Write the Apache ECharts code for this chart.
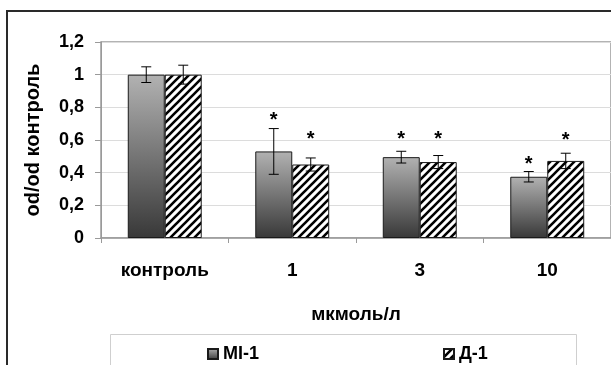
<!DOCTYPE html>
<html>
<head>
<meta charset="utf-8">
<script src="https://cdn.jsdelivr.net/npm/echarts@6/dist/echarts.min.js"></script>
<style>
  html, body { margin: 0; padding: 0; background: #fff; }
  #chart { width: 611px; height: 365px; }
</style>
</head>
<body>
<div id="chart"></div>
<script>
// Concentration groups
const categories = ['контроль', '1', '3', '10'];
// Mean od/od relative to control
const valuesMI = [1.0, 0.53, 0.495, 0.375];
const valuesD = [1.0, 0.45, 0.465, 0.472];
// Error half-widths
const errMI = [0.048, 0.14, 0.036, 0.032];
const errD = [0.058, 0.04, 0.04, 0.047];
// Heights of the significance asterisks (null = none)
const starMI = [null, 0.745, 0.625, 0.472];
const starD = [null, 0.625, 0.625, 0.62];
// Y-axis ticks
const yTicks = [0, 0.2, 0.4, 0.6, 0.8, 1, 1.2];

const FONT = '"Liberation Sans", Arial, sans-serif';
const BAR_FRAC = 0.29;

function hatchPattern() {
  const c = document.createElement('canvas');
  c.width = 8; c.height = 8;
  const g = c.getContext('2d');
  g.fillStyle = '#fff';
  g.fillRect(0, 0, 8, 8);
  g.strokeStyle = '#000';
  g.lineWidth = 2.6;
  g.beginPath();
  g.moveTo(-2, 10); g.lineTo(10, -2);
  g.moveTo(-2, 2); g.lineTo(2, -2);
  g.moveTo(6, 10); g.lineTo(10, 6);
  g.stroke();
  return c;
}

const grayGradient = new echarts.graphic.LinearGradient(0, 0, 0, 1, [
  { offset: 0, color: '#b2b2b2' },
  { offset: 1, color: '#383838' }
]);
const hatch = { image: hatchPattern(), repeat: 'repeat' };

const errData = [];
const starData = [];
categories.forEach((c, i) => {
  errData.push([i, valuesMI[i], errMI[i], -1]);
  errData.push([i, valuesD[i], errD[i], 1]);
  if (starMI[i] != null) starData.push([i, starMI[i], -1]);
  if (starD[i] != null) starData.push([i, starD[i], 1]);
});

const chart = echarts.init(document.getElementById('chart'), null, { renderer: 'canvas' });

chart.setOption({
  animation: false,
  backgroundColor: '#fff',
  textStyle: { fontFamily: FONT },
  graphic: [
    {
      type: 'rect', z: -10, silent: true,
      shape: { x: 7, y: 11, width: 700, height: 500 },
      style: { fill: 'none', stroke: '#2a2a2a', lineWidth: 2 }
    },
    {
      type: 'rect', z: 0, silent: true,
      shape: { x: 110.5, y: 334.5, width: 466, height: 60 },
      style: { fill: '#fff', stroke: '#cfcfcf', lineWidth: 1 }
    }
  ],
  grid: {
    left: 101, top: 42, bottom: 127, right: -3,
    show: true, borderColor: '#9a9a9a', borderWidth: 1.5, backgroundColor: 'transparent'
  },
  legend: [
    {
      data: ['MI-1'], left: 202, top: 340, icon: 'rect', itemWidth: 10, itemHeight: 10, itemGap: 6,
      textStyle: { fontFamily: FONT, fontWeight: 'bold', fontSize: 18, color: '#000' }, z: 5
    },
    {
      data: ['Д-1'], left: 438, top: 340, icon: 'rect', itemWidth: 10, itemHeight: 10, itemGap: 6,
      textStyle: { fontFamily: FONT, fontWeight: 'bold', fontSize: 18, color: '#000' }, z: 5
    }
  ],
  xAxis: {
    type: 'category',
    data: categories,
    name: 'мкмоль/л',
    nameLocation: 'middle',
    nameGap: 67,
    nameTextStyle: { fontFamily: FONT, fontWeight: 'bold', fontSize: 19, color: '#000' },
    axisLine: { lineStyle: { color: '#9a9a9a', width: 1.5 } },
    axisTick: { show: true, length: 5, lineStyle: { color: '#9a9a9a' } },
    axisLabel: { margin: 23, fontFamily: FONT, fontWeight: 'bold', fontSize: 19, color: '#000' },
    splitLine: { show: false }
  },
  yAxis: {
    type: 'value',
    min: 0, max: 1.2, interval: 0.2,
    name: 'od/od контроль',
    nameLocation: 'middle',
    nameRotate: 90,
    nameGap: 58,
    nameTextStyle: { fontFamily: FONT, fontWeight: 'bold', fontSize: 20, color: '#000' },
    axisLine: { show: true, lineStyle: { color: '#9a9a9a', width: 1 } },
    axisTick: { show: true, length: 6, lineStyle: { color: '#9a9a9a' } },
    axisLabel: {
      margin: 17, fontFamily: FONT, fontWeight: 'bold', fontSize: 18, color: '#000',
      formatter: v => {
        const t = yTicks.find(k => Math.abs(k - v) < 1e-6);
        return String(+(t != null ? t : v).toFixed(1)).replace('.', ',');
      }
    },
    splitLine: { lineStyle: { color: '#dcdcdc', width: 1 } }
  },
  series: [
    {
      name: 'MI-1', type: 'bar', data: valuesMI,
      barWidth: (BAR_FRAC * 100) + '%', barGap: '0%',
      itemStyle: { color: grayGradient, borderColor: '#1a1a1a', borderWidth: 1 },
      z: 2
    },
    {
      name: 'Д-1', type: 'bar', data: valuesD,
      barWidth: (BAR_FRAC * 100) + '%', barGap: '0%',
      itemStyle: { color: hatch, borderColor: '#1a1a1a', borderWidth: 1 },
      z: 2
    },
    {
      name: 'err', type: 'custom', data: errData, z: 4, silent: true,
      encode: { x: 0, y: 1 },
      renderItem(params, api) {
        const ci = api.value(0);
        const v = api.value(1);
        const e = api.value(2);
        const side = api.value(3);
        const band = api.size([1, 0])[0];
        const cx = api.coord([ci, v])[0] + side * band * BAR_FRAC / 2;
        const yHi = api.coord([ci, v + e])[1];
        const yLo = api.coord([ci, v - e])[1];
        const cap = 5;
        const style = { stroke: '#000', lineWidth: 1 };
        return {
          type: 'group',
          children: [
            { type: 'line', shape: { x1: cx, y1: yHi, x2: cx, y2: yLo }, style },
            { type: 'line', shape: { x1: cx - cap, y1: yHi, x2: cx + cap, y2: yHi }, style },
            { type: 'line', shape: { x1: cx - cap, y1: yLo, x2: cx + cap, y2: yLo }, style }
          ]
        };
      }
    },
    {
      name: 'stars', type: 'custom', data: starData, z: 4, silent: true,
      encode: { x: 0, y: 1 },
      renderItem(params, api) {
        const ci = api.value(0);
        const v = api.value(1);
        const side = api.value(2);
        const band = api.size([1, 0])[0];
        const p = api.coord([ci, v]);
        const cx = p[0] + side * band * BAR_FRAC / 2;
        return {
          type: 'text',
          style: {
            x: cx, y: p[1] + 4, text: '*',
            fill: '#000', font: 'bold 20px ' + FONT,
            align: 'center', verticalAlign: 'middle'
          }
        };
      }
    }
  ]
});
</script>
</body>
</html>
